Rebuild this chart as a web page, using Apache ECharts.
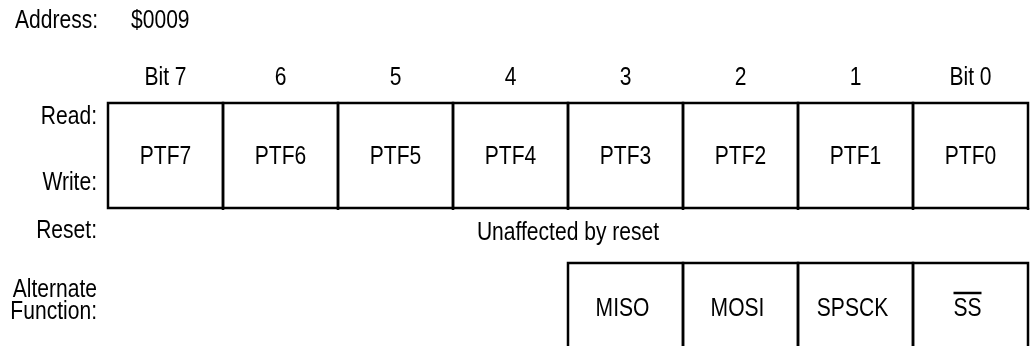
<!DOCTYPE html>
<html>
<head>
<meta charset="utf-8">
<script src="https://cdn.jsdelivr.net/npm/echarts@6/dist/echarts.min.js"></script>
<style>
  html, body { margin: 0; padding: 0; background: #fff; }
  #chart { width: 1030px; height: 346px; }
</style>
</head>
<body>
<div id="chart"></div>
<script>
// ---- data ----
const bitLabels = ['Bit 7', '6', '5', '4', '3', '2', '1', 'Bit 0'];
const registerBits = ['PTF7', 'PTF6', 'PTF5', 'PTF4', 'PTF3', 'PTF2', 'PTF1', 'PTF0'];
const altFunctions = [null, null, null, null, 'MISO', 'MOSI', 'SPSCK', 'SS'];
const altOverline = [false, false, false, false, false, false, false, true];
const addressLabel = 'Address:';
const addressValue = '$0009';
const resetText = 'Unaffected by reset';
const rowLabels = ['Read:', 'Write:', 'Reset:', 'Alternate', 'Function:'];

const FONT = '"Liberation Sans", Arial, sans-serif';
const FS = 26;
const SX = 0.81;   // horizontal condense to mimic a narrow face
const INK = '#000';
const LW = 2.5;

// layout (y in grid units, 0 = top of register box)
const REG_TOP = 0, REG_BOTTOM = 105;
const ALT_TOP = 160, ALT_BOTTOM = 250;
const BIT_LABEL_Y = -25;

const chart = echarts.init(document.getElementById('chart'), null, { renderer: 'canvas' });

function txt(text, x, y, align, extra) {
  return Object.assign({
    type: 'text', x: x, y: y, scaleX: SX,
    style: { text: text, fontFamily: FONT, fontSize: FS, fill: INK, align: align || 'center', verticalAlign: 'middle' }
  }, extra || {});
}

const regData = registerBits.map((name, i) => [i, i]);
const altData = altFunctions.map((name, i) => [i, i, altOverline[i] ? 1 : 0]).filter(d => altFunctions[d[0]] !== null);
const bitData = bitLabels.map((name, i) => [i, i]);

function cellRender(names, top, bottom, openBottom, dx) {
  return function (params, api) {
    const i = api.value(0);
    const name = names[i];
    const w = api.size([1, 0])[0];
    const c = api.coord([i, top]);
    const b = api.coord([i, bottom]);
    const x0 = c[0] - w / 2, x1 = c[0] + w / 2;
    const y0 = c[1], y1 = b[1];
    const cy = (y0 + y1) / 2;
    const children = [];
    if (openBottom) {
      children.push({
        type: 'polyline',
        shape: { points: [[x0, y1], [x0, y0], [x1, y0], [x1, y1]] },
        style: { stroke: INK, lineWidth: LW, fill: null }
      });
    } else {
      children.push({
        type: 'rect',
        shape: { x: x0, y: y0, width: x1 - x0, height: y1 - y0 },
        style: { stroke: INK, lineWidth: LW, fill: null }
      });
      // divider ticks that run slightly below the box
      children.push({
        type: 'line',
        shape: { x1: x1, y1: y1, x2: x1, y2: y1 + 2 },
        style: { stroke: INK, lineWidth: LW }
      });
    }
    children.push(txt(name, c[0] + dx, cy + 1, 'center'));
    if (openBottom && api.value(2) === 1) {
      children.push({
        type: 'line',
        shape: { x1: c[0] + dx - 14, y1: cy - 15, x2: c[0] + dx + 14, y2: cy - 15 },
        style: { stroke: INK, lineWidth: LW }
      });
    }
    return { type: 'group', children };
  };
}

function bitRender(params, api) {
  const i = api.value(0);
  const p = api.coord([i, BIT_LABEL_Y]);
  return txt(bitLabels[i], p[0], p[1], 'center');
}

const option = {
  animation: false,
  backgroundColor: '#fff',
  grid: { left: 108, right: 2, top: 103, bottom: 0 },
  xAxis: {
    type: 'category',
    data: bitLabels,
    position: 'top',
    boundaryGap: true,
    axisLine: { show: false },
    axisTick: { show: false },
    splitLine: { show: false },
    axisLabel: { show: false }
  },
  yAxis: {
    type: 'value', inverse: true, min: 0, max: 243, show: false
  },
  series: [
    {
      type: 'custom', clip: false,
      encode: { x: 0, y: -1 },
      data: regData,
      renderItem: cellRender(registerBits, REG_TOP, REG_BOTTOM, false, 0)
    },
    {
      type: 'custom', clip: false,
      encode: { x: 0, y: -1 },
      data: altData,
      renderItem: cellRender(altFunctions, ALT_TOP, ALT_BOTTOM, true, -3)
    },
    {
      type: 'custom', clip: false,
      encode: { x: 0, y: -1 },
      data: bitData,
      renderItem: bitRender
    }
  ],
  graphic: [
    txt(addressLabel, 15, 21, 'left'),
    txt(addressValue, 131, 21, 'left'),
    txt(rowLabels[0], 97, 117, 'right'),
    txt(rowLabels[1], 97, 183, 'right'),
    txt(rowLabels[2], 97, 231, 'right'),
    txt(rowLabels[3], 97, 290, 'right'),
    txt(rowLabels[4], 97, 312, 'right'),
    txt(resetText, 568, 233, 'center')
  ]
};
chart.setOption(option);
</script>
</body>
</html>
